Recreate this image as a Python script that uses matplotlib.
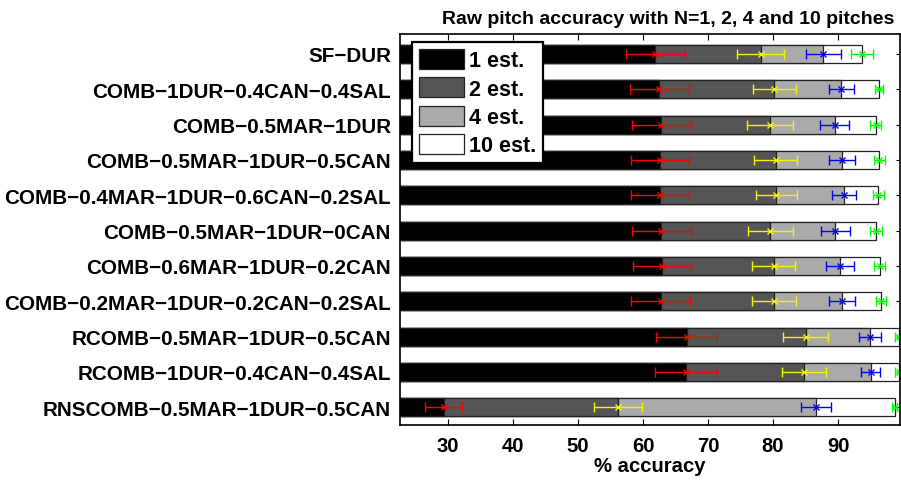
import numpy as np
import matplotlib
matplotlib.use('Agg')
import matplotlib.pyplot as plt
from matplotlib.patches import Patch

# 1. Data (top row first)
methods = ['SF−DUR',
           'COMB−1DUR−0.4CAN−0.4SAL',
           'COMB−0.5MAR−1DUR',
           'COMB−0.5MAR−1DUR−0.5CAN',
           'COMB−0.4MAR−1DUR−0.6CAN−0.2SAL',
           'COMB−0.5MAR−1DUR−0CAN',
           'COMB−0.6MAR−1DUR−0.2CAN',
           'COMB−0.2MAR−1DUR−0.2CAN−0.2SAL',
           'RCOMB−0.5MAR−1DUR−0.5CAN',
           'RCOMB−1DUR−0.4CAN−0.4SAL',
           'RNSCOMB−0.5MAR−1DUR−0.5CAN']

acc1 = [61.9, 62.5, 62.8, 62.6, 62.55, 62.8, 62.9, 62.7, 66.7, 66.6, 29.3]
acc2 = [78.1, 80.2, 79.5, 80.4, 80.5, 79.6, 80.1, 80.2, 85.0, 84.8, 56.15]
acc4 = [87.75, 90.5, 89.5, 90.6, 90.9, 89.6, 90.3, 90.6, 94.9, 95.0, 86.6]
acc10 = [93.7, 96.3, 95.8, 96.3, 96.2, 95.8, 96.4, 96.6, 99.3, 99.3, 98.7]

err1 = [4.6, 4.5, 4.55, 4.45, 4.45, 4.55, 4.45, 4.55, 4.7, 4.75, 2.9]
err2 = [3.65, 3.35, 3.5, 3.35, 3.2, 3.4, 3.3, 3.4, 3.4, 3.4, 3.75]
err4 = [2.65, 1.9, 2.25, 2.0, 1.85, 2.3, 2.1, 2.0, 1.7, 1.5, 2.25]
err10 = [1.7, 0.6, 0.85, 0.85, 0.8, 0.9, 0.8, 0.7, 0.5, 0.5, 0.4]

legend_labels = ['1 est.', '2 est.', '4 est.', '10 est.']
xticks = [30, 40, 50, 60, 70, 80, 90]

# 2. Figure setup
plt.rcParams['font.family'] = ['Liberation Sans', 'DejaVu Sans']
plt.rcParams['font.weight'] = 'bold'

fig = plt.figure(figsize=(9.01, 4.81), dpi=100)
ax = fig.add_axes([400 / 901, 1 - 426 / 481, 499.5 / 901, 390.7 / 481])

y = np.arange(len(methods))[::-1] + 1

# 3. Bars, widest first so the shorter ones sit on top
fills = ['black', '#555555', '#aaaaaa', 'white']
series = [acc1, acc2, acc4, acc10]
for vals, col in zip(series[::-1], fills[::-1]):
    ax.barh(y, vals, height=0.51, color=col, edgecolor='#222222', linewidth=0.9)

# 4. Error bars
errs = [err1, err2, err4, err10]
ecols = ['red', '#f5f500', 'blue', '#00ff00']
for vals, e, c in zip(series, errs, ecols):
    ax.errorbar(vals, y, xerr=e, fmt='x', color=c, ecolor=c, markersize=5,
                capsize=3.5, elinewidth=1.0, capthick=1.0, markeredgewidth=1.0)

# 5. Axes styling
ax.set_xlim(22.6, 99.45)
ax.set_ylim(0.5, 11.557)
ax.set_xticks(xticks)
ax.set_xticklabels([str(t) for t in xticks], fontsize=14.6, fontweight='bold')
ax.set_yticks(y)
ax.set_yticklabels(methods, fontsize=14.9, fontweight='bold')
ax.tick_params(axis='x', direction='in', top=True, length=4, pad=8)
ax.tick_params(axis='y', direction='in', right=True, length=3, pad=6.5)
for s in ax.spines.values():
    s.set_linewidth(1.2)
ax.set_xlabel('% accuracy', fontsize=14.6, fontweight='bold', labelpad=1)

fig.text(668 / 901, 1 - 20 / 481, 'Raw pitch accuracy with N=1, 2, 4 and 10 pitches',
         ha='center', va='center', fontsize=14, fontweight='bold')

# 6. Legend
handles = [Patch(facecolor=c, edgecolor='#222222', linewidth=0.9) for c in fills]
leg = ax.legend(handles, legend_labels, loc='upper left',
                bbox_to_anchor=(412 / 901, 1 - 43 / 481), bbox_transform=fig.transFigure,
                prop={'family': 'Liberation Sans', 'weight': 'bold', 'size': 15.5},
                handlelength=2.1, handleheight=1.05, handletextpad=0.22,
                labelspacing=0.28, borderpad=0.32, borderaxespad=0, fancybox=False,
                framealpha=1, edgecolor='black')
leg.get_frame().set_linewidth(1.6)

plt.savefig('out.png', dpi=100)
